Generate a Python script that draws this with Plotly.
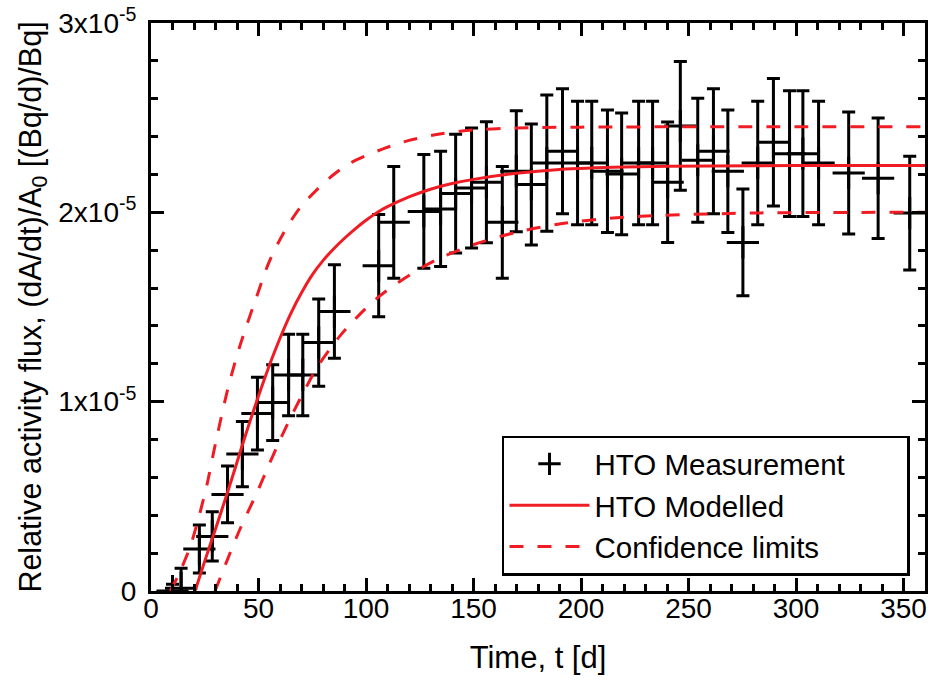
import plotly.graph_objects as go

# ---- data (y in units of 1e-6 (Bq/d)/Bq) ----
meas_days = [10, 14, 22.5, 28.5, 35.6, 42.5, 49.5, 56.6, 64.0, 70.6,
             78.0, 85.3, 105.9, 112.9, 126.9, 134.7, 141.7, 149.1, 156.0, 163.4,
             169.9, 176.9, 184.1, 191.4, 198.4, 205.0, 212.3, 218.9, 226.8, 233.3,
             240.3, 246.2, 254.3, 261.6, 268.3, 275.3, 282.2, 289.5, 297.0, 303.2,
             310.5, 324.5, 338.2, 352.9]
meas_vals = [0.0, 0.15, 2.22, 2.88, 5.1, 7.23, 9.37, 9.95, 11.41, 11.41,
             13.12, 14.76, 17.18, 19.47, 20.05, 20.18, 20.99, 21.29, 21.59, 19.47,
             22.17, 21.47, 22.6, 23.23, 22.61, 22.61, 22.17, 22.03, 22.61, 22.61,
             21.59, 24.56, 22.75, 23.23, 22.17, 18.41, 22.61, 23.7, 23.1, 23.1,
             22.61, 22.08, 21.8, 19.96]
meas_err = [0.35, 1.05, 1.27, 1.3, 1.5, 1.72, 1.92, 2.0, 2.15, 2.15,
            2.3, 2.47, 2.7, 2.95, 3.0, 3.04, 3.14, 3.17, 3.2, 2.95,
            3.2, 3.2, 3.6, 3.3, 3.26, 3.26, 3.23, 3.22, 3.26, 3.26,
            3.18, 3.4, 3.28, 3.3, 3.23, 2.82, 3.26, 3.37, 3.32, 3.32,
            3.26, 3.22, 3.18, 3.0]

model_days = [20.5, 25, 30, 35, 40, 45, 50, 55, 60, 65, 70, 75, 80, 85, 90, 95,
              100, 105, 110, 120, 130, 140, 150, 170, 190, 220, 260, 300, 360]
model_vals = [0, 1.58, 3.28, 5.0, 6.8, 8.6, 10.3, 11.9, 13.35, 14.65, 15.75, 16.7,
              17.45, 18.08, 18.63, 19.13, 19.58, 19.98, 20.3, 20.82, 21.22, 21.52,
              21.74, 22.06, 22.26, 22.39, 22.45, 22.47, 22.47]

upper_days = [9, 13, 18.2, 22, 26, 30, 36, 41.5, 49.3, 55, 61.6, 69, 77.2, 85,
              92.7, 106.7, 120, 135, 150, 170, 200, 360]
upper_vals = [0, 0.9, 2.33, 3.8, 5.6, 7.8, 10.8, 13.0, 15.6, 17.4, 18.9, 20.2,
              21.2, 22.0, 22.6, 23.3, 23.8, 24.15, 24.35, 24.45, 24.5, 24.52]

lower_days = [29.8, 35, 41.5, 49.3, 55, 60.5, 66, 71, 77.2, 88.1, 97, 106, 115,
              125.5, 134.7, 150.2, 170, 190.6, 215, 237.2, 283.8, 360]
lower_vals = [0, 1.5, 3.3, 5.2, 6.7, 8.1, 9.4, 10.5, 11.8, 13.5, 14.6, 15.55, 16.3,
              17.05, 17.6, 18.3, 18.95, 19.4, 19.7, 19.84, 19.97, 20.0]

y_tickvals = [0, 10, 20, 30]
y_ticktext = ["0", "1x10<sup>-5</sup>", "2x10<sup>-5</sup>", "3x10<sup>-5</sup>"]
x_tickvals = [0, 50, 100, 150, 200, 250, 300, 350]

RED = "#f01c24"
FONT = "Liberation Sans, Arial, Helvetica, sans-serif"
PAD = "\u00a0" * 7   # widens the legend box like the reference

fig = go.Figure()

fig.add_trace(go.Scatter(
    x=meas_days, y=meas_vals, mode="markers", name="HTO Measurement" + PAD,
    marker=dict(symbol="cross-thin", size=23, color="black",
                line=dict(color="black", width=3)),
    error_y=dict(type="data", array=meas_err, visible=True,
                 color="black", thickness=3, width=6.5),
))
fig.add_trace(go.Scatter(
    x=model_days, y=model_vals, mode="lines", name="HTO Modelled",
    line=dict(color=RED, width=3, shape="spline", smoothing=0.8),
))
fig.add_trace(go.Scatter(
    x=upper_days, y=upper_vals, mode="lines", name="Confidence limits",
    line=dict(color=RED, width=3, dash="14px,14px", shape="spline", smoothing=0.8),
))
fig.add_trace(go.Scatter(
    x=lower_days, y=lower_vals, mode="lines", name="Confidence limits",
    showlegend=False,
    line=dict(color=RED, width=3, dash="14px,14px", shape="spline", smoothing=0.8),
))

axis_common = dict(
    showline=True, linecolor="black", linewidth=3, mirror="ticks",
    ticks="inside", ticklen=13, tickwidth=3, tickcolor="black",
    showgrid=False, zeroline=False, automargin=False,
    ticklabeloverflow="allow",
    tickfont=dict(family=FONT, size=28, color="black"),
)

fig.update_xaxes(
    range=[0, 360], tickmode="array", tickvals=x_tickvals,
    minor=dict(dtick=10, tick0=0, ticks="inside", ticklen=7, tickwidth=2.5,
               tickcolor="black", showgrid=False),
    title=dict(text="Time, t [d]", font=dict(family=FONT, size=31, color="black"),
               standoff=24),
    ticklabelstandoff=-10,
    **axis_common,
)
fig.update_yaxes(
    range=[0, 30], tickmode="array", tickvals=y_tickvals, ticktext=y_ticktext,
    minor=dict(dtick=2, tick0=0, ticks="inside", ticklen=7, tickwidth=2.5,
               tickcolor="black", showgrid=False),
    title=dict(text="Relative activity flux, (dA/dt)/A<sub>0</sub> [(Bq/d)/Bq]",
               font=dict(family=FONT, size=30.5, color="black"), standoff=8),
    ticklabelstandoff=6,
    **axis_common,
)

fig.update_layout(
    width=932, height=688,
    margin=dict(l=151, r=7, t=23, b=97),
    paper_bgcolor="white", plot_bgcolor="white",
    showlegend=True,
    legend=dict(
        x=0.9806, y=0.027, xanchor="right", yanchor="bottom",
        bgcolor="white", bordercolor="black", borderwidth=2.5,
        font=dict(family=FONT, size=29.5, color="black"),
        itemwidth=80, tracegroupgap=0,
    ),
)

fig.write_html("out.html",
               config={"displayModeBar": False},
               post_script="document.body.style.margin='0';"
                           "document.body.style.overflow='hidden';")
